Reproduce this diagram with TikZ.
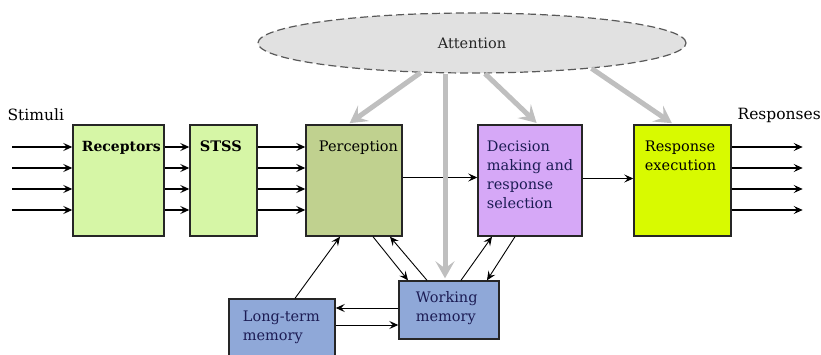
\documentclass[tikz,border=0pt]{standalone}
\usepackage{fontspec}
\setmainfont{DejaVu Serif}
\usetikzlibrary{arrows.meta,shapes.geometric}

\definecolor{recgreen}{RGB}{214,246,166}
\definecolor{percgreen}{RGB}{192,209,143}
\definecolor{declilac}{RGB}{214,168,247}
\definecolor{respyellow}{RGB}{216,250,0}
\definecolor{memblue}{RGB}{143,168,216}
\definecolor{attgray}{RGB}{225,225,225}
\definecolor{ink}{RGB}{28,28,84}

\begin{document}
\begin{tikzpicture}[x=1pt,y=-1pt,>={Stealth[length=9pt,width=8pt,inset=3.5pt]},
  line width=1.2pt,
  block/.style={draw=black!85,line width=1.4pt,inner sep=0pt},
  txt/.style={anchor=north west,inner sep=0pt,align=left,font=\fontsize{14.5}{19}\selectfont},
  side/.style={anchor=west,inner sep=0pt,font=\fontsize{15.5}{17}\selectfont},
  attn/.style={->,draw=black!25,line width=5pt,shorten >=2pt,
    >={Stealth[length=17pt,width=19pt,inset=7pt]}},
  link/.style={->,line width=0.9pt}]

  \useasboundingbox (0,0) rectangle (821,355);

  % attention
  \node[ellipse,draw=black!65,fill=attgray,dash pattern=on 8pt off 4pt,
    minimum width=428pt,minimum height=60pt,inner sep=0pt,
    font=\fontsize{14.5}{16}\selectfont,text=black!85] (att) at (472,43) {Attention};

  % processing stages
  \node[block,fill=recgreen,minimum width=91pt,minimum height=111pt] (rec) at (118.5,180.5) {};
  \node[block,fill=recgreen,minimum width=67pt,minimum height=111pt] (stss) at (223.5,180.5) {};
  \node[block,fill=percgreen,minimum width=96pt,minimum height=111pt] (perc) at (354,180.5) {};
  \node[block,fill=declilac,minimum width=104pt,minimum height=111pt] (dec) at (530,180.5) {};
  \node[block,fill=respyellow,minimum width=97pt,minimum height=111pt] (resp) at (682.5,180.5) {};

  % memories
  \node[block,fill=memblue,minimum width=100pt,minimum height=58pt] (wm) at (449,310) {};
  \node[block,fill=memblue,minimum width=106pt,minimum height=61pt] (lt) at (282,329.5) {};

  \node[txt,font=\bfseries\fontsize{14}{19}\selectfont] (rec-l) at ([shift={(9pt,-16pt)}]rec.north west) {Receptors};
  \node[txt,font=\bfseries\fontsize{14.5}{19}\selectfont] (stss-l) at ([shift={(10pt,-16pt)}]stss.north west) {STSS};
  \node[txt] (perc-l) at ([shift={(13pt,-16pt)}]perc.north west) {Perception};
  \node[txt,text=ink] (dec-l) at ([shift={(9pt,-16pt)}]dec.north west) {Decision\\making and\\response\\selection};
  \node[txt] (resp-l) at ([shift={(11pt,-16pt)}]resp.north west) {Response\\execution};
  \node[txt,text=ink] (wm-l) at ([shift={(17pt,-11pt)}]wm.north west) {Working\\memory};
  \node[txt,text=ink] (lt-l) at ([shift={(14pt,-12pt)}]lt.north west) {Long-term\\memory};

  \node[side] (stim) at (7,115) {Stimuli};
  \node[side] (resps) at (737,115) {Responses};

  % parallel channels
  \foreach \dy in {33.5,12.5,-8.5,-29.5}{
    \draw[->] ([xshift=-60pt,yshift=\dy pt]rec.west) -- ([yshift=\dy pt]rec.west);
    \draw[->] ([yshift=\dy pt]rec.east) -- ([yshift=\dy pt]stss.west);
    \draw[->] ([yshift=\dy pt]stss.east) -- ([yshift=\dy pt]perc.west);
    \draw[->] ([yshift=\dy pt]resp.east) -- ([xshift=71pt,yshift=\dy pt]resp.east);
  }
  \draw[->] ([yshift=3pt]perc.east) -- ([yshift=3pt]dec.west);
  \draw[->] ([yshift=2pt]dec.east) -- ([yshift=2pt]resp.west);

  % memory links
  \draw[link] ([xshift=13pt]lt.north) -- ([xshift=-14pt]perc.south);
  \draw[link] ([xshift=19pt]perc.south) -- ([xshift=-41pt]wm.north);
  \draw[link] ([xshift=-22pt]wm.north) -- ([xshift=36pt]perc.south);
  \draw[link] ([xshift=12pt]wm.north) -- ([xshift=-38pt]dec.south);
  \draw[link] ([xshift=-15pt]dec.south) -- ([xshift=38pt]wm.north);
  \draw[link] ([yshift=2pt]wm.west) -- ([yshift=2pt]wm.west -| lt.east);
  \draw[link] ([yshift=-15pt]lt.east |- wm.west) -- ([yshift=-15pt]wm.west);

  % attention
  \draw[attn] (att.210) -- ([xshift=-6pt]perc.north);
  \draw[attn] ([xshift=-4pt]wm.north |- att.south) -- ([xshift=-4pt]wm.north);
  \draw[attn] ([xshift=13pt]att.south) -- ([xshift=8pt]dec.north);
  \draw[attn] (att.348) -- ([xshift=-9pt]resp.north);
\end{tikzpicture}
\end{document}
